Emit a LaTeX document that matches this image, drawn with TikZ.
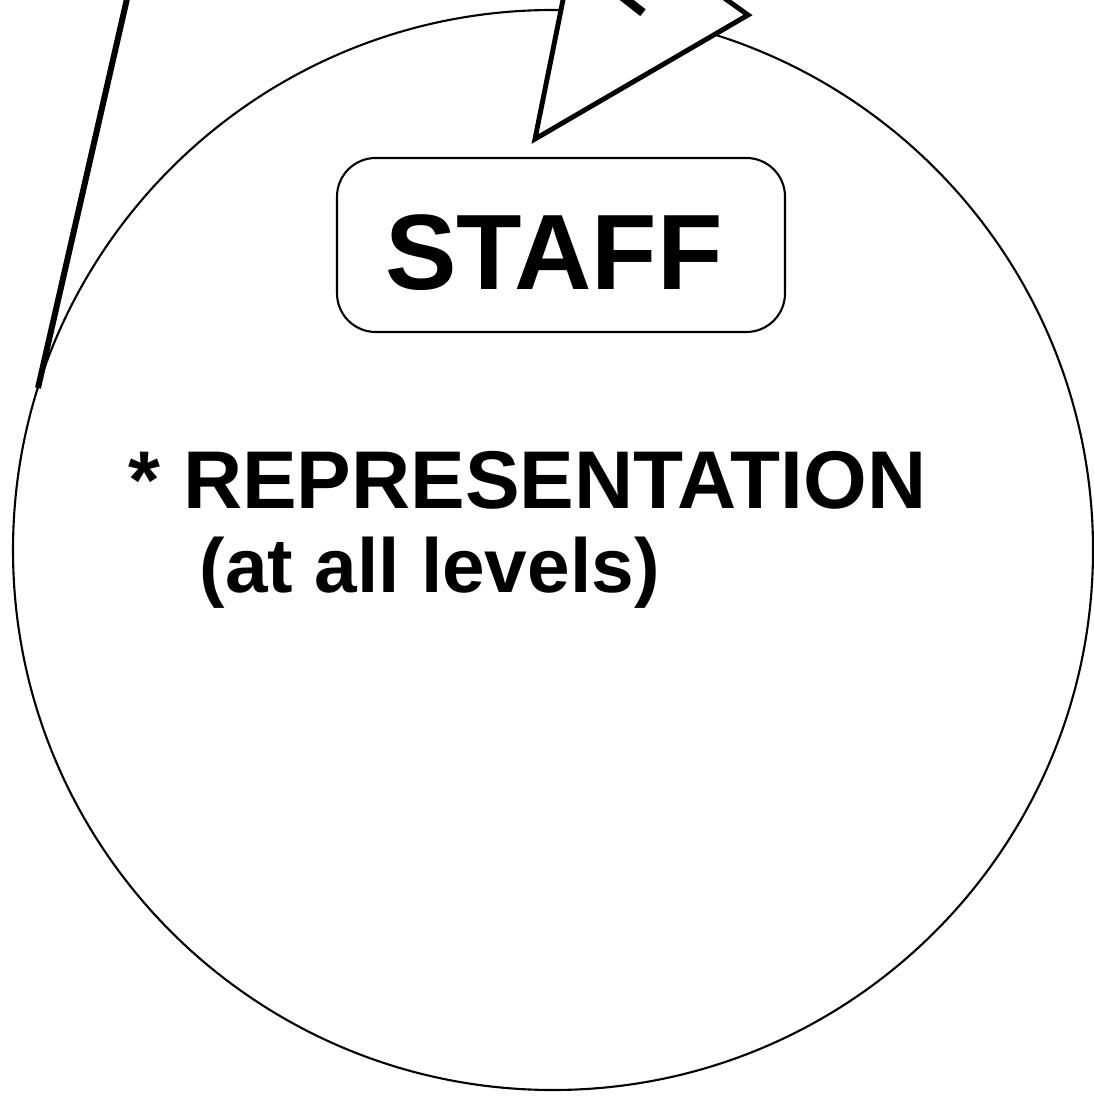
\documentclass[tikz,border=0pt]{standalone}
\usepackage{fontspec}
\setmainfont{Liberation Sans}
\usepackage{tikz}
\usetikzlibrary{positioning}

\begin{document}
\begin{tikzpicture}[
      x=0.1mm, y=-0.1mm,
      ring/.style={draw, circle, line width=0.6pt, minimum size=108mm, inner sep=0pt},
      title/.style={draw, rounded corners=11pt, line width=0.6pt, minimum width=44.8mm, minimum height=17.4mm, text height=9mm, text depth=0pt, font=\fontsize{30.5}{36}\selectfont\bfseries},
      item/.style={inner sep=0pt, anchor=base west, font=\fontsize{23.3}{28}\selectfont\bfseries},
      subitem/.style={item, font=\fontsize{21.8}{26}\selectfont\bfseries},
      pointer/.style={draw, fill=white, line width=1.4pt, line join=miter},
      stroke/.style={line width=1.7pt}
  ]
    \useasboundingbox (0,0) rectangle (1093,1097);

    \node[ring] (ring) at (553,550) {};

    % arrow tip coming in from the top, cut by the page edge
    \coordinate (tipl) at (567,-20);
    \coordinate (tip) at (535,139);
    \coordinate (tipr) at (748,15);
    \coordinate (tipb) at (699,-20);
    \draw[pointer] (tipl) -- (tip) -- (tipr) -- (tipb);
    \node[inner sep=0pt, anchor=base west, rotate=52, font=\fontsize{30}{36}\selectfont] (cut) at (635,24) {M};

    % line from the upper left
    \coordinate (lnt) at (129,-10);
    \coordinate (lnb) at (38,388);
    \draw[stroke] (lnt) -- (lnb);

    \node[title] (staff) at (561,245) {STAFF\hspace*{1.4mm}};
    \node[item] (rep) at (128,509) {* REPRESENTATION};
    \node[subitem] (lev) at (199,592) {(at all levels)};
  \end{tikzpicture}
\end{document}
